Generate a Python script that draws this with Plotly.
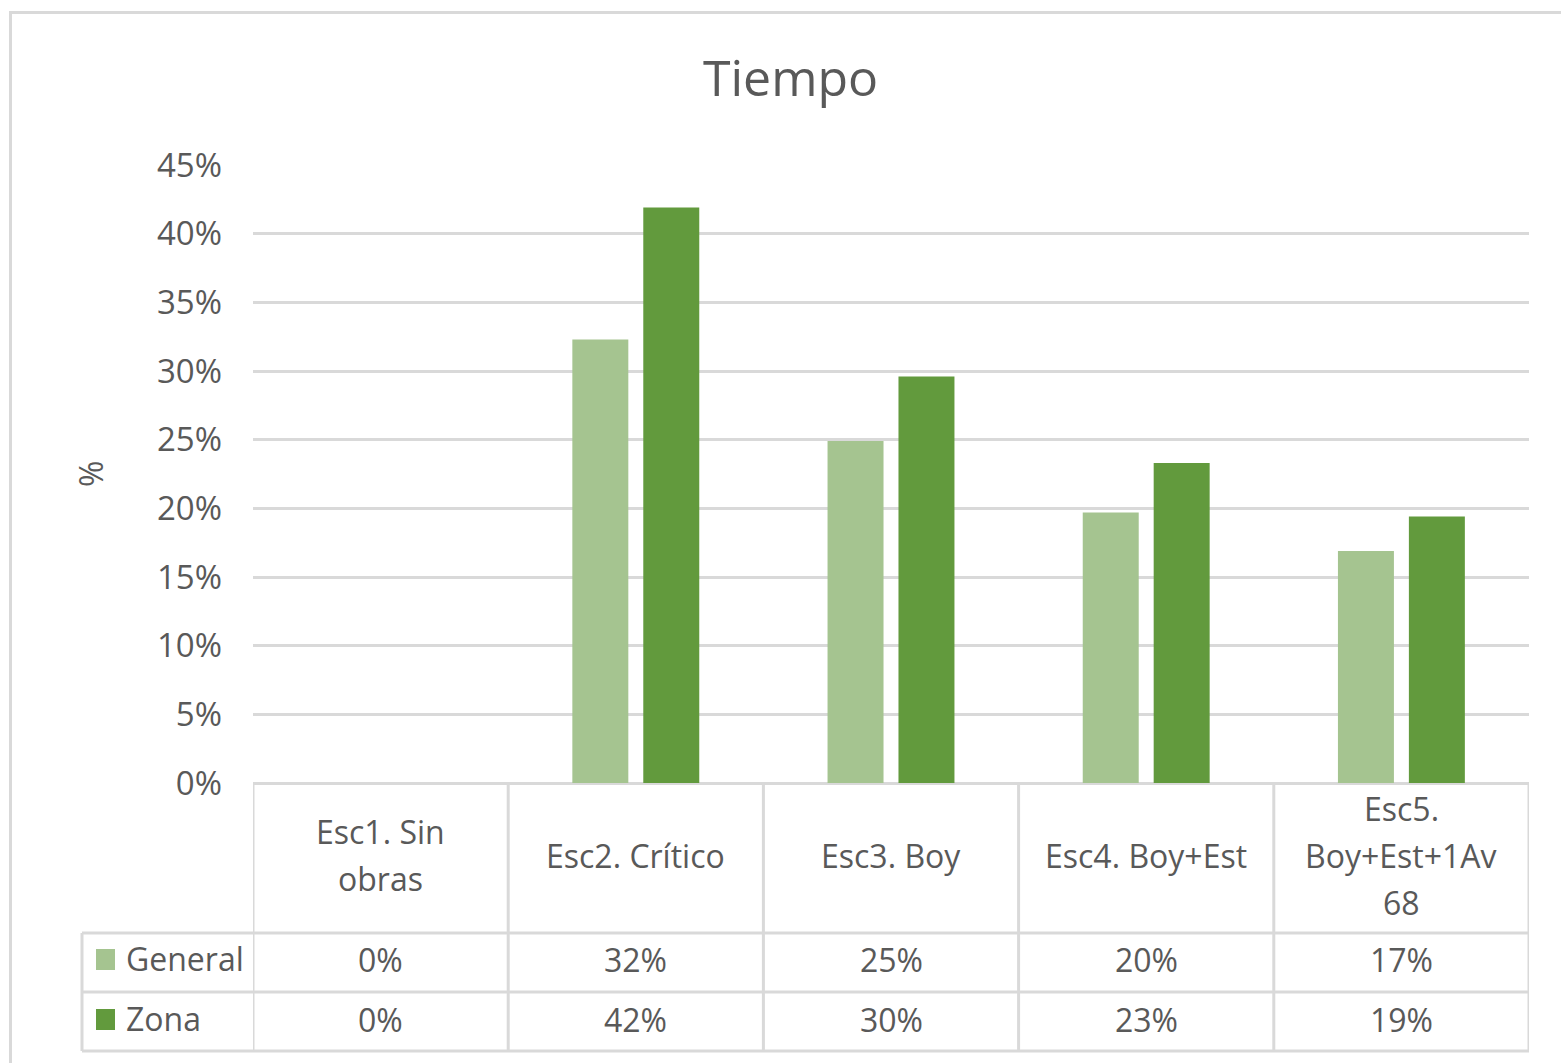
import plotly.graph_objects as go

# ---- data ----
categories = ["Esc1. Sin<br>obras", "Esc2. Crítico", "Esc3. Boy", "Esc4. Boy+Est", "Esc5.<br>Boy+Est+1Av<br>68"]
series_names = ["General", "Zona"]
general = [0.0, 0.323, 0.249, 0.197, 0.169]
zona = [0.0, 0.419, 0.296, 0.233, 0.194]
y_ticks = [0, 0.05, 0.10, 0.15, 0.20, 0.25, 0.30, 0.35, 0.40, 0.45]
title_text = "Tiempo"
y_title = "%"

# ---- style / geometry ----
W, H = 1561, 1063
PL, PR, PT, PB = 253, 1529, 165, 783   # plot area in pixels
colors = {"General": "#A5C490", "Zona": "#629A3D"}
TXT = "#595959"
GRID = "#D9D9D9"
FONT = "Open Sans"
FS = 32

def px_x(px):
    return (px - PL) / (PR - PL)

def px_y(py):
    return (PB - py) / (PB - PT)

fig = go.Figure()
values = {"General": general, "Zona": zona}
for name in series_names:
    fig.add_trace(go.Bar(x=categories, y=values[name], name=name,
                         marker=dict(color=colors[name], line=dict(width=0))))

shapes = []
annotations = []

# chart border
shapes.append(dict(type="rect", xref="paper", yref="paper",
                   x0=px_x(10.5), x1=px_x(W + 20), y0=px_y(12.5), y1=px_y(H + 20),
                   line=dict(color=GRID, width=3), fillcolor="rgba(0,0,0,0)", layer="below"))

# table geometry
row_top, row_g, row_z, row_bot = PB, 933, 992, 1051
left_col = 82
n = len(categories)
for i in range(n + 1):
    shapes.append(dict(type="line", xref="x", yref="paper",
                       x0=i - 0.5, x1=i - 0.5, y0=px_y(row_top), y1=px_y(row_bot),
                       line=dict(color=GRID, width=3)))
shapes.append(dict(type="line", xref="paper", yref="paper",
                   x0=px_x(left_col), x1=px_x(left_col), y0=px_y(row_g), y1=px_y(row_bot),
                   line=dict(color=GRID, width=3)))
for yy in (row_g, row_z, row_bot):
    shapes.append(dict(type="line", xref="paper", yref="paper",
                       x0=px_x(left_col), x1=1, y0=px_y(yy), y1=px_y(yy),
                       line=dict(color=GRID, width=3)))

# category labels (header row)
line_sp = 47
hdr_center = 855
for cat in categories:
    lines = cat.split("<br>")
    k = len(lines)
    for j, ln in enumerate(lines):
        yc = hdr_center + (j - (k - 1) / 2) * line_sp
        annotations.append(dict(x=cat, xref="x", y=px_y(yc), yref="paper", text=ln,
                                showarrow=False, xanchor="center", yanchor="middle",
                                font=dict(family=FONT, size=FS, color=TXT)))

# value rows
row_centers = {"General": 959, "Zona": 1019}
for name in series_names:
    yc = row_centers[name]
    for cat, v in zip(categories, values[name]):
        annotations.append(dict(x=cat, xref="x", y=px_y(yc), yref="paper",
                                text=f"{v:.0%}", showarrow=False,
                                xanchor="center", yanchor="middle",
                                font=dict(family=FONT, size=FS, color=TXT)))
    shapes.append(dict(type="rect", xref="paper", yref="paper",
                       x0=px_x(96), x1=px_x(115), y0=px_y(yc - 10), y1=px_y(yc + 11),
                       fillcolor=colors[name], line=dict(width=0)))
    annotations.append(dict(x=px_x(124), xref="paper", y=px_y(yc - 1), yref="paper",
                            text=name, showarrow=False, xanchor="left", yanchor="middle",
                            font=dict(family=FONT, size=FS, color=TXT)))

# y axis title
annotations.append(dict(x=px_x(90), xref="paper", y=px_y(474), yref="paper",
                        text=y_title, textangle=-90, showarrow=False,
                        xanchor="center", yanchor="middle",
                        font=dict(family=FONT, size=FS, color=TXT)))

fig.update_layout(
    width=W, height=H,
    margin=dict(l=PL, r=W - PR, t=PT, b=H - PB, pad=0),
    paper_bgcolor="white", plot_bgcolor="white",
    barmode="group", bargap=0.444, bargroupgap=0.211,
    showlegend=False,
    title=dict(text=title_text, x=790.5 / W, xref="container", xanchor="center",
               y=1 - 78 / H, yref="container", yanchor="middle",
               font=dict(family=FONT, size=50, color=TXT)),
    font=dict(family=FONT, size=FS, color=TXT),
    shapes=shapes, annotations=annotations,
)
fig.update_xaxes(showticklabels=False, showgrid=False, showline=False, zeroline=False,
                 ticks="", range=[-0.5, n - 0.5])
fig.update_yaxes(range=[0, 0.45], tickvals=y_ticks, tickformat=".0%",
                 showgrid=True, gridcolor=GRID, gridwidth=3,
                 zeroline=True, zerolinecolor=GRID, zerolinewidth=3,
                 showline=False, ticks="", ticklabelstandoff=30,
                 tickfont=dict(family=FONT, size=33, color=TXT))

fig.write_html("out.html", config={"displayModeBar": False},
               post_script="document.body.style.margin='0px';document.body.style.overflow='hidden';")
